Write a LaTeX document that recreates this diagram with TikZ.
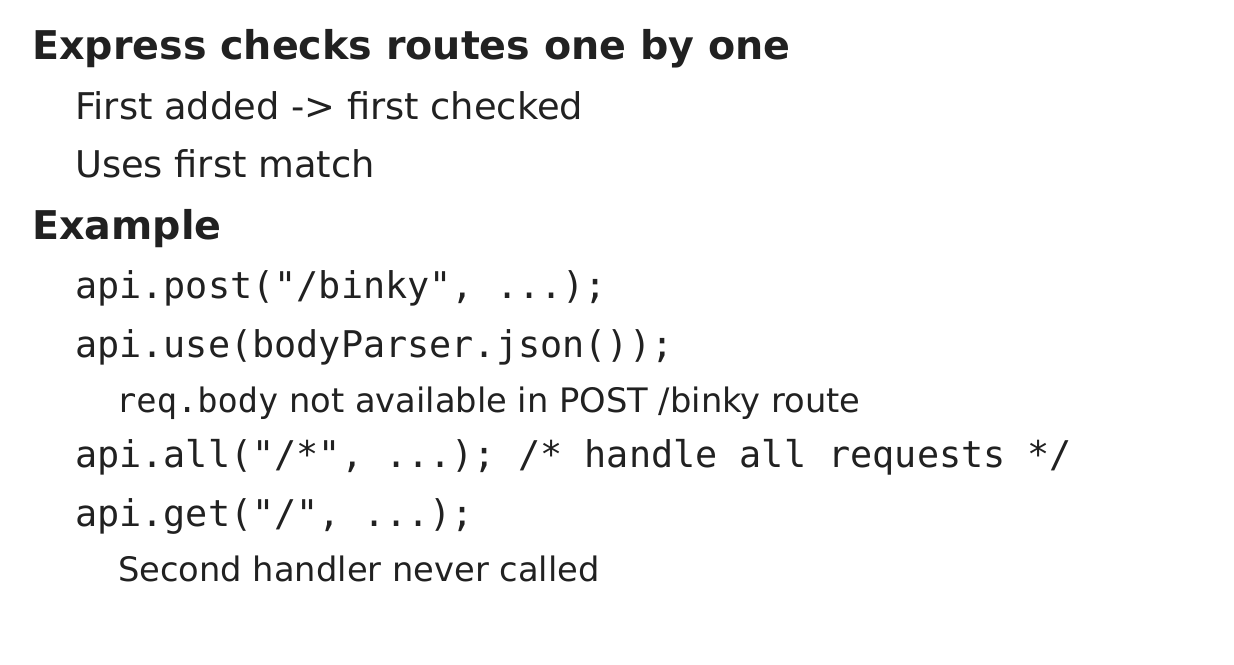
\documentclass[tikz,border=0pt]{standalone}
\usepackage{fontspec}
\setmainfont{DejaVu Sans}
\setmonofont{DejaVu Sans Mono}
\begin{document}
\begin{tikzpicture}[x=1pt,y=-1pt,
  txt/.style={anchor=base west,inner sep=0pt,text=black!87},
  head/.style={txt,font=\fontsize{39.6}{44}\selectfont\bfseries},
  item/.style={txt,font=\fontsize{36.8}{42}\selectfont},
  code/.style={txt,font=\fontsize{36.8}{44}\selectfont\ttfamily},
  note/.style={txt,font=\fontsize{33.7}{37}\selectfont}]
\useasboundingbox[fill=white] (0,0) rectangle (1234,664);
\node[head] (h1) at (32,59) {Express checks routes one by one};
\node[item] (i1) at (75,119) {First added -> first checked};
\node[item] (i2) at (75,177) {Uses first match};
\node[head] (h2) at (32,239) {Example};
\node[code] (c1) at (75,298) {api.post("/binky", ...);};
\node[code] (c2) at (75,357) {api.use(bodyParser.json());};
\node[note] (n1) at (116,412) {{\ttfamily req.body} not available in POST /binky route};
\node[code] (c3) at (75,467) {api.all("/*", ...); /* handle all requests */};
\node[code] (c4) at (75,526) {api.get("/", ...);};
\node[note] (n2) at (118,581) {Second handler never called};
\end{tikzpicture}
\end{document}
